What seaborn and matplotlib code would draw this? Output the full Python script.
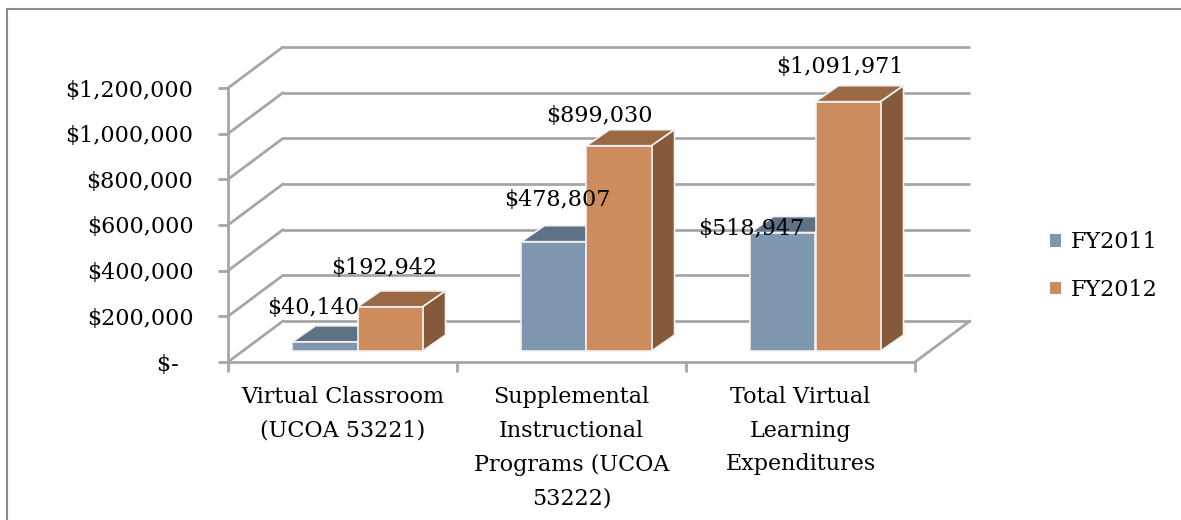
"""
Virtual learning expenditures, FY2011 vs FY2012 (pseudo-3D column chart)
"""

# imports
import numpy as np
import pandas as pd
import matplotlib
matplotlib.use("Agg")
import matplotlib.pyplot as plt
from matplotlib.patches import Polygon, Patch
from matplotlib.lines import Line2D
from matplotlib.ticker import FuncFormatter, MultipleLocator
import seaborn as sns

# data
CATEGORIES = ["Virtual Classroom\n(UCOA 53221)",
              "Supplemental\nInstructional\nPrograms (UCOA\n53222)",
              "Total Virtual\nLearning\nExpenditures"]
YEARS = ["FY2011", "FY2012"]
FY2011 = [40140, 478807, 518947]
FY2012 = [192942, 899030, 1091971]

# settings
COLORS = {"FY2011": ("#7F97AE", "#5E7185", "#4E6073"),
          "FY2012": ("#CD8C5E", "#9A6844", "#845A3B")}
GRID = "#A6A6A6"
PLANE = (15, 11)    # bar front plane offset from front of floor (px)
DEPTH = (23, 16)    # bar depth (px)
WALL = (55, 41)     # back wall offset (px)
LABEL_OFFSETS = [(-12, 34), (3, 42), (-32, 4), (-6, 39), (-20, 30), (-8, 35)]
FONT = 16


def money(v, pos=None):
    return "$-  " if v == 0 else f"${v:,.0f}"


def main():
    df = pd.DataFrame({"category": CATEGORIES * 2,
                       "year": np.repeat(YEARS, len(CATEGORIES)),
                       "value": FY2011 + FY2012})

    sns.set_style("white")
    plt.rcParams["font.family"] = ["DejaVu Serif"]
    plt.rcParams["text.color"] = "black"
    plt.rcParams["xtick.color"] = "black"
    plt.rcParams["ytick.color"] = "black"

    fig = plt.figure(figsize=(11.81, 5.2), dpi=100)
    ax = fig.add_axes([228 / 1181, 158 / 520, 687 / 1181, 274 / 520])
    ax.set_xlim(-0.5, 2.5)
    ax.set_ylim(0, 1200000)

    # pixel -> data offsets
    def off(px):
        p0 = ax.transData.transform((0, 0))
        return ax.transData.inverted().transform(p0 + np.array(px))

    pdx, pdy = off(PLANE)
    ddx, ddy = off(DEPTH)
    wdx, wdy = off(WALL)

    # back wall, side wall and floor
    ticks = np.arange(0, 1200001, 200000)
    for v in ticks:
        ax.plot([-0.5 + wdx, 2.5 + wdx], [v + wdy, v + wdy], color=GRID,
                lw=2, zorder=0, clip_on=False, solid_capstyle="butt")
        ax.plot([-0.5, -0.5 + wdx], [v, v + wdy], color=GRID, lw=2,
                zorder=0, clip_on=False)
    ax.plot([2.5, 2.5 + wdx], [0, wdy], color=GRID, lw=2, zorder=0,
            clip_on=False)

    # bars
    sns.barplot(data=df, x="category", y="value", hue="year",
                palette=[COLORS[y][0] for y in YEARS], width=0.568,
                saturation=1, edgecolor="#F2F2F2", linewidth=1.2,
                ax=ax, zorder=3)
    ax.get_legend().remove()

    for year, container in zip(YEARS, ax.containers):
        front, top, side = COLORS[year]
        for bar in container:
            bar.set_x(bar.get_x() + pdx)
            bar.set_y(pdy)
            bar.set_clip_on(False)
            x0, x1 = bar.get_x(), bar.get_x() + bar.get_width()
            y0, y1 = pdy, pdy + bar.get_height()
            ax.add_patch(Polygon([(x0, y1), (x1, y1), (x1 + ddx, y1 + ddy),
                                  (x0 + ddx, y1 + ddy)], closed=True,
                                 facecolor=top, edgecolor="#F2F2F2", lw=1.2,
                                 zorder=2, clip_on=False))
            ax.add_patch(Polygon([(x1, y0), (x1 + ddx, y0 + ddy),
                                  (x1 + ddx, y1 + ddy), (x1, y1)], closed=True,
                                 facecolor=side, edgecolor="#F2F2F2", lw=1.2,
                                 zorder=2, clip_on=False))

    # data labels
    bars = [b for c in ax.containers for b in c]
    vals = FY2011 + FY2012
    for bar, v, (ox, oy) in zip(bars, vals, LABEL_OFFSETS):
        ax.annotate(f"${v:,.0f}", xy=(bar.get_x() + bar.get_width() / 2,
                                      bar.get_y() + bar.get_height()),
                    xytext=(ox, oy), textcoords="offset pixels",
                    ha="center", va="center", fontsize=FONT, zorder=5,
                    annotation_clip=False)

    # axes
    for s in ["top", "right"]:
        ax.spines[s].set_visible(False)
    for s in ["left", "bottom"]:
        ax.spines[s].set_color(GRID)
        ax.spines[s].set_linewidth(2)
    ax.yaxis.set_major_locator(MultipleLocator(200000))
    ax.yaxis.set_major_formatter(FuncFormatter(money))
    ax.tick_params(axis="y", which="major", length=7, width=2, color=GRID,
                   pad=18, labelsize=FONT, left=True, labelcolor="black")
    ax.set_xticks([0, 1, 2])
    ax.set_xticklabels(CATEGORIES, linespacing=1.7)
    ax.set_xticks([-0.5, 0.5, 1.5, 2.5], minor=True)
    ax.tick_params(axis="x", which="major", length=0, pad=17, labelsize=FONT,
                   labelcolor="black")
    ax.tick_params(axis="x", which="minor", length=7, width=2, color=GRID,
                   bottom=True)
    for t in ax.get_xticklabels():
        t.set_verticalalignment("top")
    ax.set(xlabel="", ylabel="")

    # legend
    handles = [Patch(facecolor=COLORS[y][0], edgecolor="none") for y in YEARS]
    fig.legend(handles, YEARS, loc="center left",
               bbox_to_anchor=(1030 / 1181, 1 - 266 / 520), frameon=False,
               fontsize=FONT, handlelength=0.5, handleheight=0.5,
               handletextpad=0.45, labelspacing=1.15)

    # chart border
    fig.add_artist(Line2D([7 / 1181, 7 / 1181], [0, 1 - 9 / 520],
                          color="#8C8C8C", lw=1.5))
    fig.add_artist(Line2D([7 / 1181, 1], [1 - 9 / 520, 1 - 9 / 520],
                          color="#8C8C8C", lw=1.5))

    fig.savefig("out.png", dpi=100)


if __name__ == "__main__":
    main()
